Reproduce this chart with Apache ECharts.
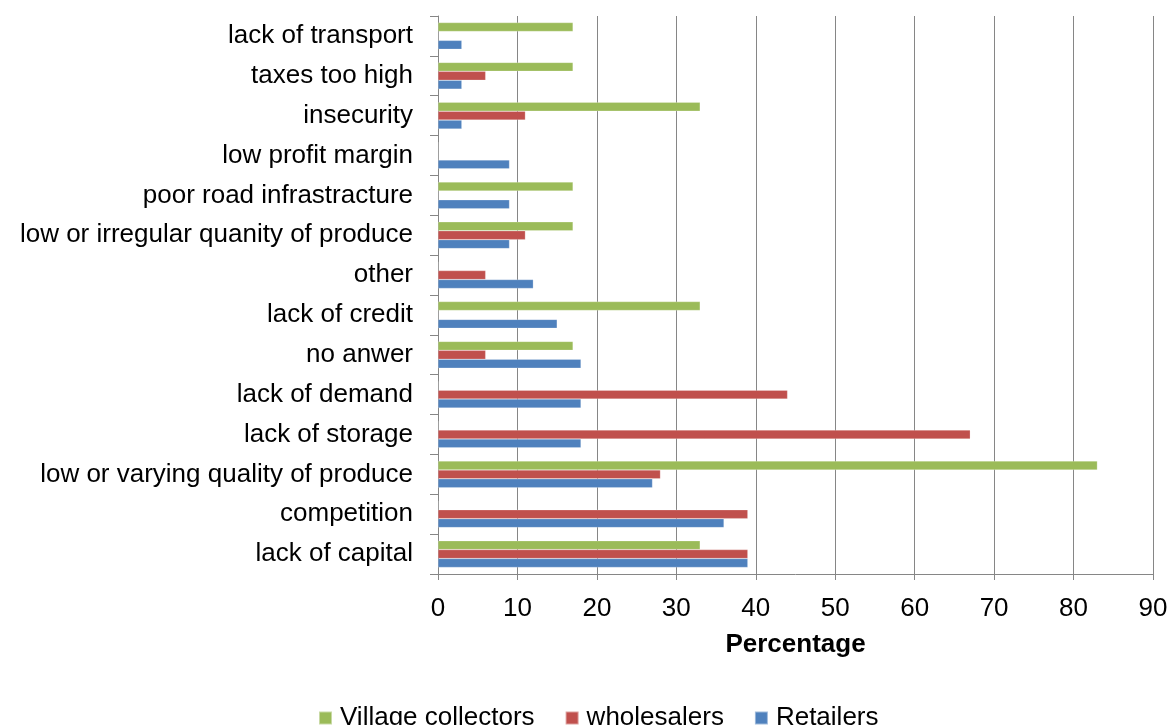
<!DOCTYPE html>
<html>
<head>
<meta charset="utf-8">
<script src="https://cdn.jsdelivr.net/npm/echarts@6/dist/echarts.min.js"></script>
<style>
html,body{margin:0;padding:0;background:#fff;}
#chart{width:1173px;height:725px;}
</style>
</head>
<body>
<div id="chart"></div>
<script>
const categories = [
  'lack of capital',
  'competition',
  'low or varying quality of produce',
  'lack of storage',
  'lack of demand',
  'no anwer',
  'lack of credit',
  'other',
  'low or irregular quanity of produce',
  'poor road infrastracture',
  'low profit margin',
  'insecurity',
  'taxes too high',
  'lack of transport'
];
const villageCollectors = [33, 0, 83, 0, 0, 17, 33, 0, 17, 17, 0, 33, 17, 17];
const wholesalers       = [39, 39, 28, 67, 44, 6, 0, 6, 11, 0, 0, 11, 6, 0];
const retailers         = [39, 36, 27, 18, 18, 18, 15, 12, 9, 9, 9, 3, 3, 3];
const xTicks = { min: 0, max: 90, interval: 10 };
const seriesNames = ['Village collectors', 'wholesalers', 'Retailers'];
const colors = { 'Village collectors': '#9BBB59', 'wholesalers': '#C0504D', 'Retailers': '#4F81BD' };

const FONT = '"Liberation Sans", Arial, sans-serif';
const FS = 26;
const chart = echarts.init(document.getElementById('chart'));
const mk = (name, data) => ({
  name: name,
  type: 'bar',
  data: data,
  barGap: '0%',
  barCategoryGap: '33%',
  itemStyle: { color: colors[name], borderColor: 'rgba(255,255,255,0.45)', borderWidth: 0.5 },
  emphasis: { disabled: true },
  animation: false
});
chart.setOption({
  animation: false,
  textStyle: { fontFamily: FONT },
  grid: { left: 438, right: 20, top: 16, bottom: 151, containLabel: false },
  legend: {
    data: seriesNames,
    left: 313,
    top: 700,
    itemWidth: 13,
    itemHeight: 13,
    itemGap: 30,
    icon: 'rect',
    textStyle: { fontSize: FS, color: '#000', fontFamily: FONT, padding: [0, 0, 0, 3] }
  },
  xAxis: {
    type: 'value',
    min: xTicks.min,
    max: xTicks.max,
    interval: xTicks.interval,
    name: 'Percentage',
    nameLocation: 'middle',
    nameGap: 58,
    nameTextStyle: { fontSize: FS, fontWeight: 'bold', color: '#000', fontFamily: FONT },
    axisLine: { show: true, lineStyle: { color: '#868686', width: 1 } },
    axisTick: { show: true, length: 6, lineStyle: { color: '#868686' } },
    axisLabel: { fontSize: FS, color: '#000', margin: 22, fontFamily: FONT },
    splitLine: { show: true, lineStyle: { color: '#868686', width: 1 } }
  },
  yAxis: {
    type: 'category',
    data: categories,
    axisLine: { show: true, lineStyle: { color: '#868686', width: 1 } },
    axisTick: { show: true, length: 8, lineStyle: { color: '#868686' } },
    axisLabel: { fontSize: FS, color: '#000', margin: 25, fontFamily: FONT },
    splitLine: { show: false }
  },
  series: [
    mk('Village collectors', villageCollectors),
    mk('wholesalers', wholesalers),
    mk('Retailers', retailers)
  ]
});
</script>
</body>
</html>
